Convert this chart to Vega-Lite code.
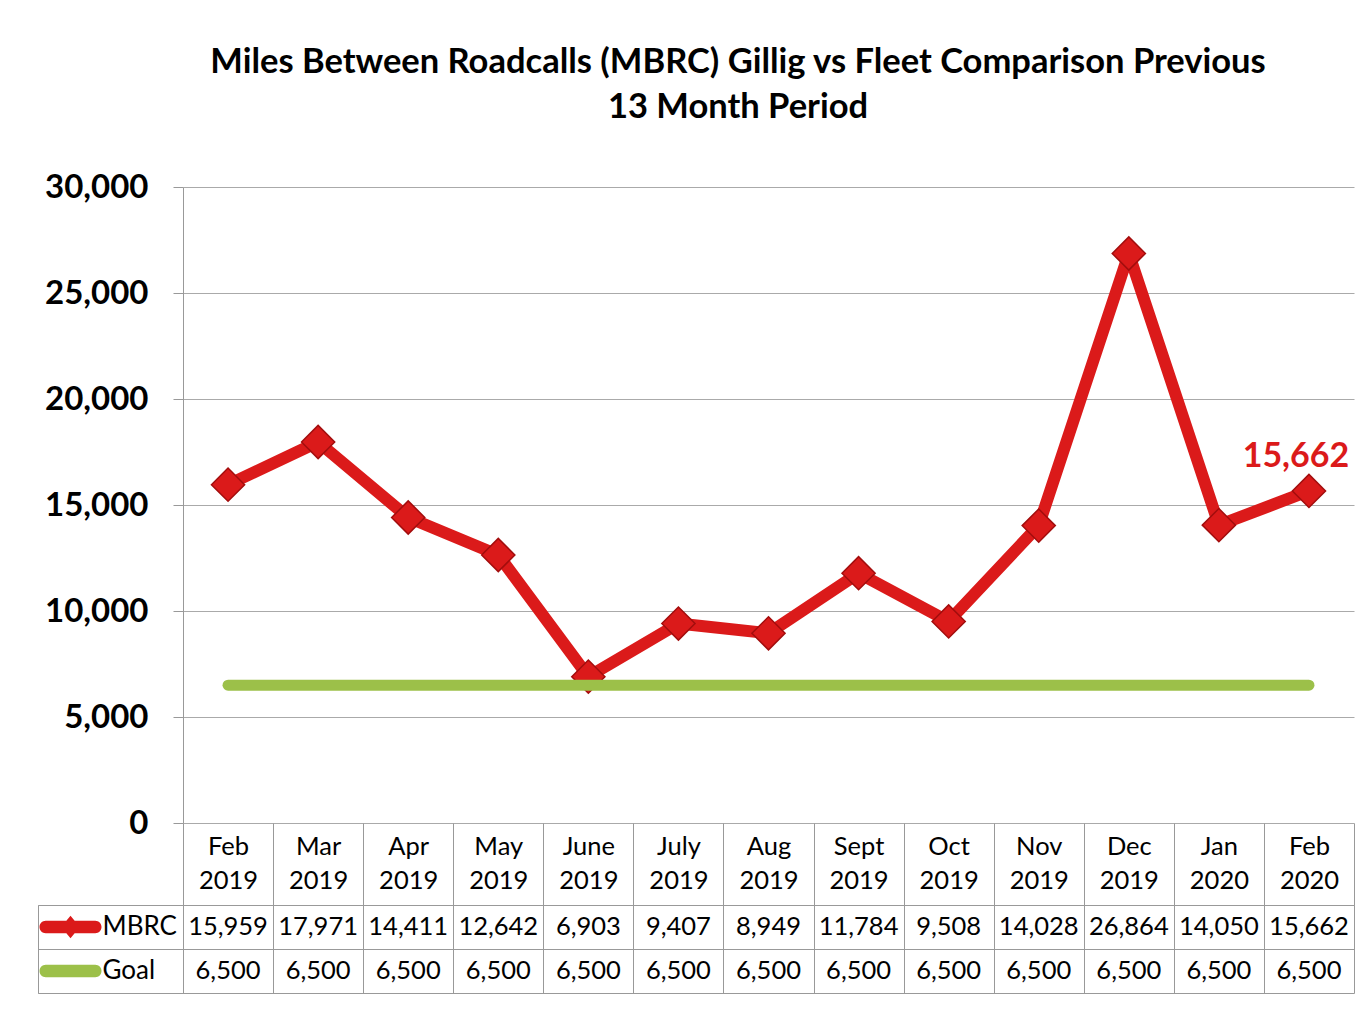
{
  "$schema": "https://vega.github.io/schema/vega-lite/v6.json",
  "padding": {"left": 37, "top": 44, "right": 11, "bottom": 30},
  "background": "white",
  "title": {
    "text": ["Miles Between Roadcalls (MBRC) Gillig vs Fleet Comparison Previous", "13 Month Period"],
    "font": "Lato", "fontSize": 34.5, "fontWeight": "bold", "color": "#000",
    "lineHeight": 45, "anchor": "middle", "dx": 42, "offset": 46
  },
  "datasets": {
    "d": [
      {"month": "Feb 2019", "MBRC": 15959, "Goal": 6500},
      {"month": "Mar 2019", "MBRC": 17971, "Goal": 6500},
      {"month": "Apr 2019", "MBRC": 14411, "Goal": 6500},
      {"month": "May 2019", "MBRC": 12642, "Goal": 6500},
      {"month": "June 2019", "MBRC": 6903, "Goal": 6500},
      {"month": "July 2019", "MBRC": 9407, "Goal": 6500},
      {"month": "Aug 2019", "MBRC": 8949, "Goal": 6500},
      {"month": "Sept 2019", "MBRC": 11784, "Goal": 6500},
      {"month": "Oct 2019", "MBRC": 9508, "Goal": 6500},
      {"month": "Nov 2019", "MBRC": 14028, "Goal": 6500},
      {"month": "Dec 2019", "MBRC": 26864, "Goal": 6500},
      {"month": "Jan 2020", "MBRC": 14050, "Goal": 6500},
      {"month": "Feb 2020", "MBRC": 15662, "Goal": 6500}
    ]
  },
  "columns": 2,
  "bounds": "flush",
  "spacing": {"row": 82, "column": 0},
  "concat": [
    {
      "width": 145, "height": 636,
      "data": {"values": [{}]},
      "mark": {"type": "text"},
      "encoding": {"text": {"value": ""}}
    },
    {
      "width": 1171, "height": 636,
      "data": {"name": "d"},
      "encoding": {
        "x": {"field": "month", "type": "ordinal", "sort": null, "scale": {"type": "point", "padding": 0.5}, "axis": null}
      },
      "layer": [
        {
          "mark": {"type": "line", "color": "#db1a1a", "strokeWidth": 12, "strokeJoin": "round", "strokeCap": "round"},
          "encoding": {
            "y": {"field": "MBRC", "type": "quantitative", "scale": {"domain": [0, 30000]},
              "axis": {"title": null, "values": [0, 5000, 10000, 15000, 20000, 25000, 30000], "format": ",.0f",
                "labelFont": "Lato", "labelFontSize": 33, "labelFontWeight": "bold", "labelColor": "#000",
                "labelPadding": 25, "tickSize": 10, "tickColor": "#999", "domainColor": "#999",
                "grid": true, "gridColor": "#aaa"}}
          }
        },
        {
          "mark": {"type": "point", "shape": "diamond", "filled": true, "size": 1100, "color": "#db1a1a", "stroke": "#a30d0d", "strokeWidth": 1.5, "opacity": 1},
          "encoding": {"y": {"field": "MBRC", "type": "quantitative"}}
        },
        {
          "mark": {"type": "line", "color": "#9cc049", "strokeWidth": 11, "strokeCap": "round"},
          "encoding": {"y": {"field": "Goal", "type": "quantitative"}}
        },
        {
          "transform": [{"filter": "datum.month == 'Feb 2020'"}],
          "mark": {"type": "text", "font": "Lato", "fontSize": 34, "fontWeight": "bold", "color": "#db1a1a", "dx": -13, "dy": -34},
          "encoding": {
            "y": {"field": "MBRC", "type": "quantitative"},
            "text": {"field": "MBRC", "type": "quantitative", "format": ",.0f"}
          }
        }
      ]
    },
    {
      "width": 145, "height": 88,
      "data": {"values": [{"series": "MBRC"}, {"series": "Goal"}]},
      "view": {"stroke": "#999"},
      "encoding": {
        "y": {"field": "series", "type": "nominal", "sort": ["MBRC", "Goal"],
          "scale": {"type": "band", "paddingInner": 0, "paddingOuter": 0},
          "axis": {"title": null, "labels": false, "ticks": false, "domain": false, "grid": true, "tickBand": "extent", "gridColor": "#999"}}
      },
      "layer": [
        {
          "mark": {"type": "point", "filled": true, "opacity": 1, "strokeWidth": 0, "size": 3844, "xOffset": -40},
          "encoding": {
            "shape": {"field": "series", "type": "nominal", "legend": null,
              "scale": {"domain": ["MBRC", "Goal"], "range": [
                "M-0.8,-0.2L0.8,-0.2A0.2,0.2 0 0 1 0.8,0.2L-0.8,0.2A0.2,0.2 0 0 1 -0.8,-0.2Z M0,-0.36L0.3,0L0,0.36L-0.3,0Z",
                "M-0.8,-0.2L0.8,-0.2A0.2,0.2 0 0 1 0.8,0.2L-0.8,0.2A0.2,0.2 0 0 1 -0.8,-0.2Z"]}},
            "color": {"field": "series", "type": "nominal", "legend": null,
              "scale": {"domain": ["MBRC", "Goal"], "range": ["#db1a1a", "#9cc049"]}}
          }
        },
        {
          "mark": {"type": "text", "align": "left", "dx": -8, "font": "Lato", "fontSize": 26, "color": "#000"},
          "encoding": {"text": {"field": "series", "type": "nominal"}}
        }
      ]
    },
    {
      "width": 1171, "height": 88,
      "data": {"name": "d"},
      "transform": [{"fold": ["MBRC", "Goal"], "as": ["series", "val"]}],
      "mark": {"type": "text", "font": "Lato", "fontSize": 25.5, "color": "#000"},
      "encoding": {
        "x": {"field": "month", "type": "ordinal", "sort": null,
          "scale": {"type": "band", "paddingInner": 0, "paddingOuter": 0},
          "axis": {"orient": "top", "title": null, "labelExpr": "split(datum.label, ' ')",
            "labelFont": "Lato", "labelFontSize": 25.5, "labelColor": "#000", "labelLineHeight": 34, "labelAngle": 0,
            "tickBand": "extent", "tickSize": 82, "tickColor": "#999", "labelPadding": -36,
            "grid": true, "gridColor": "#999", "domainColor": "#999"}},
        "y": {"field": "series", "type": "nominal", "sort": ["MBRC", "Goal"],
          "scale": {"type": "band", "paddingInner": 0, "paddingOuter": 0},
          "axis": {"title": null, "labels": false, "ticks": false, "grid": true, "tickBand": "extent", "gridColor": "#999", "domainColor": "#999"}},
        "text": {"field": "val", "type": "quantitative", "format": ",.0f"}
      }
    }
  ],
  "config": {"view": {"stroke": null}, "font": "Lato"}
}
